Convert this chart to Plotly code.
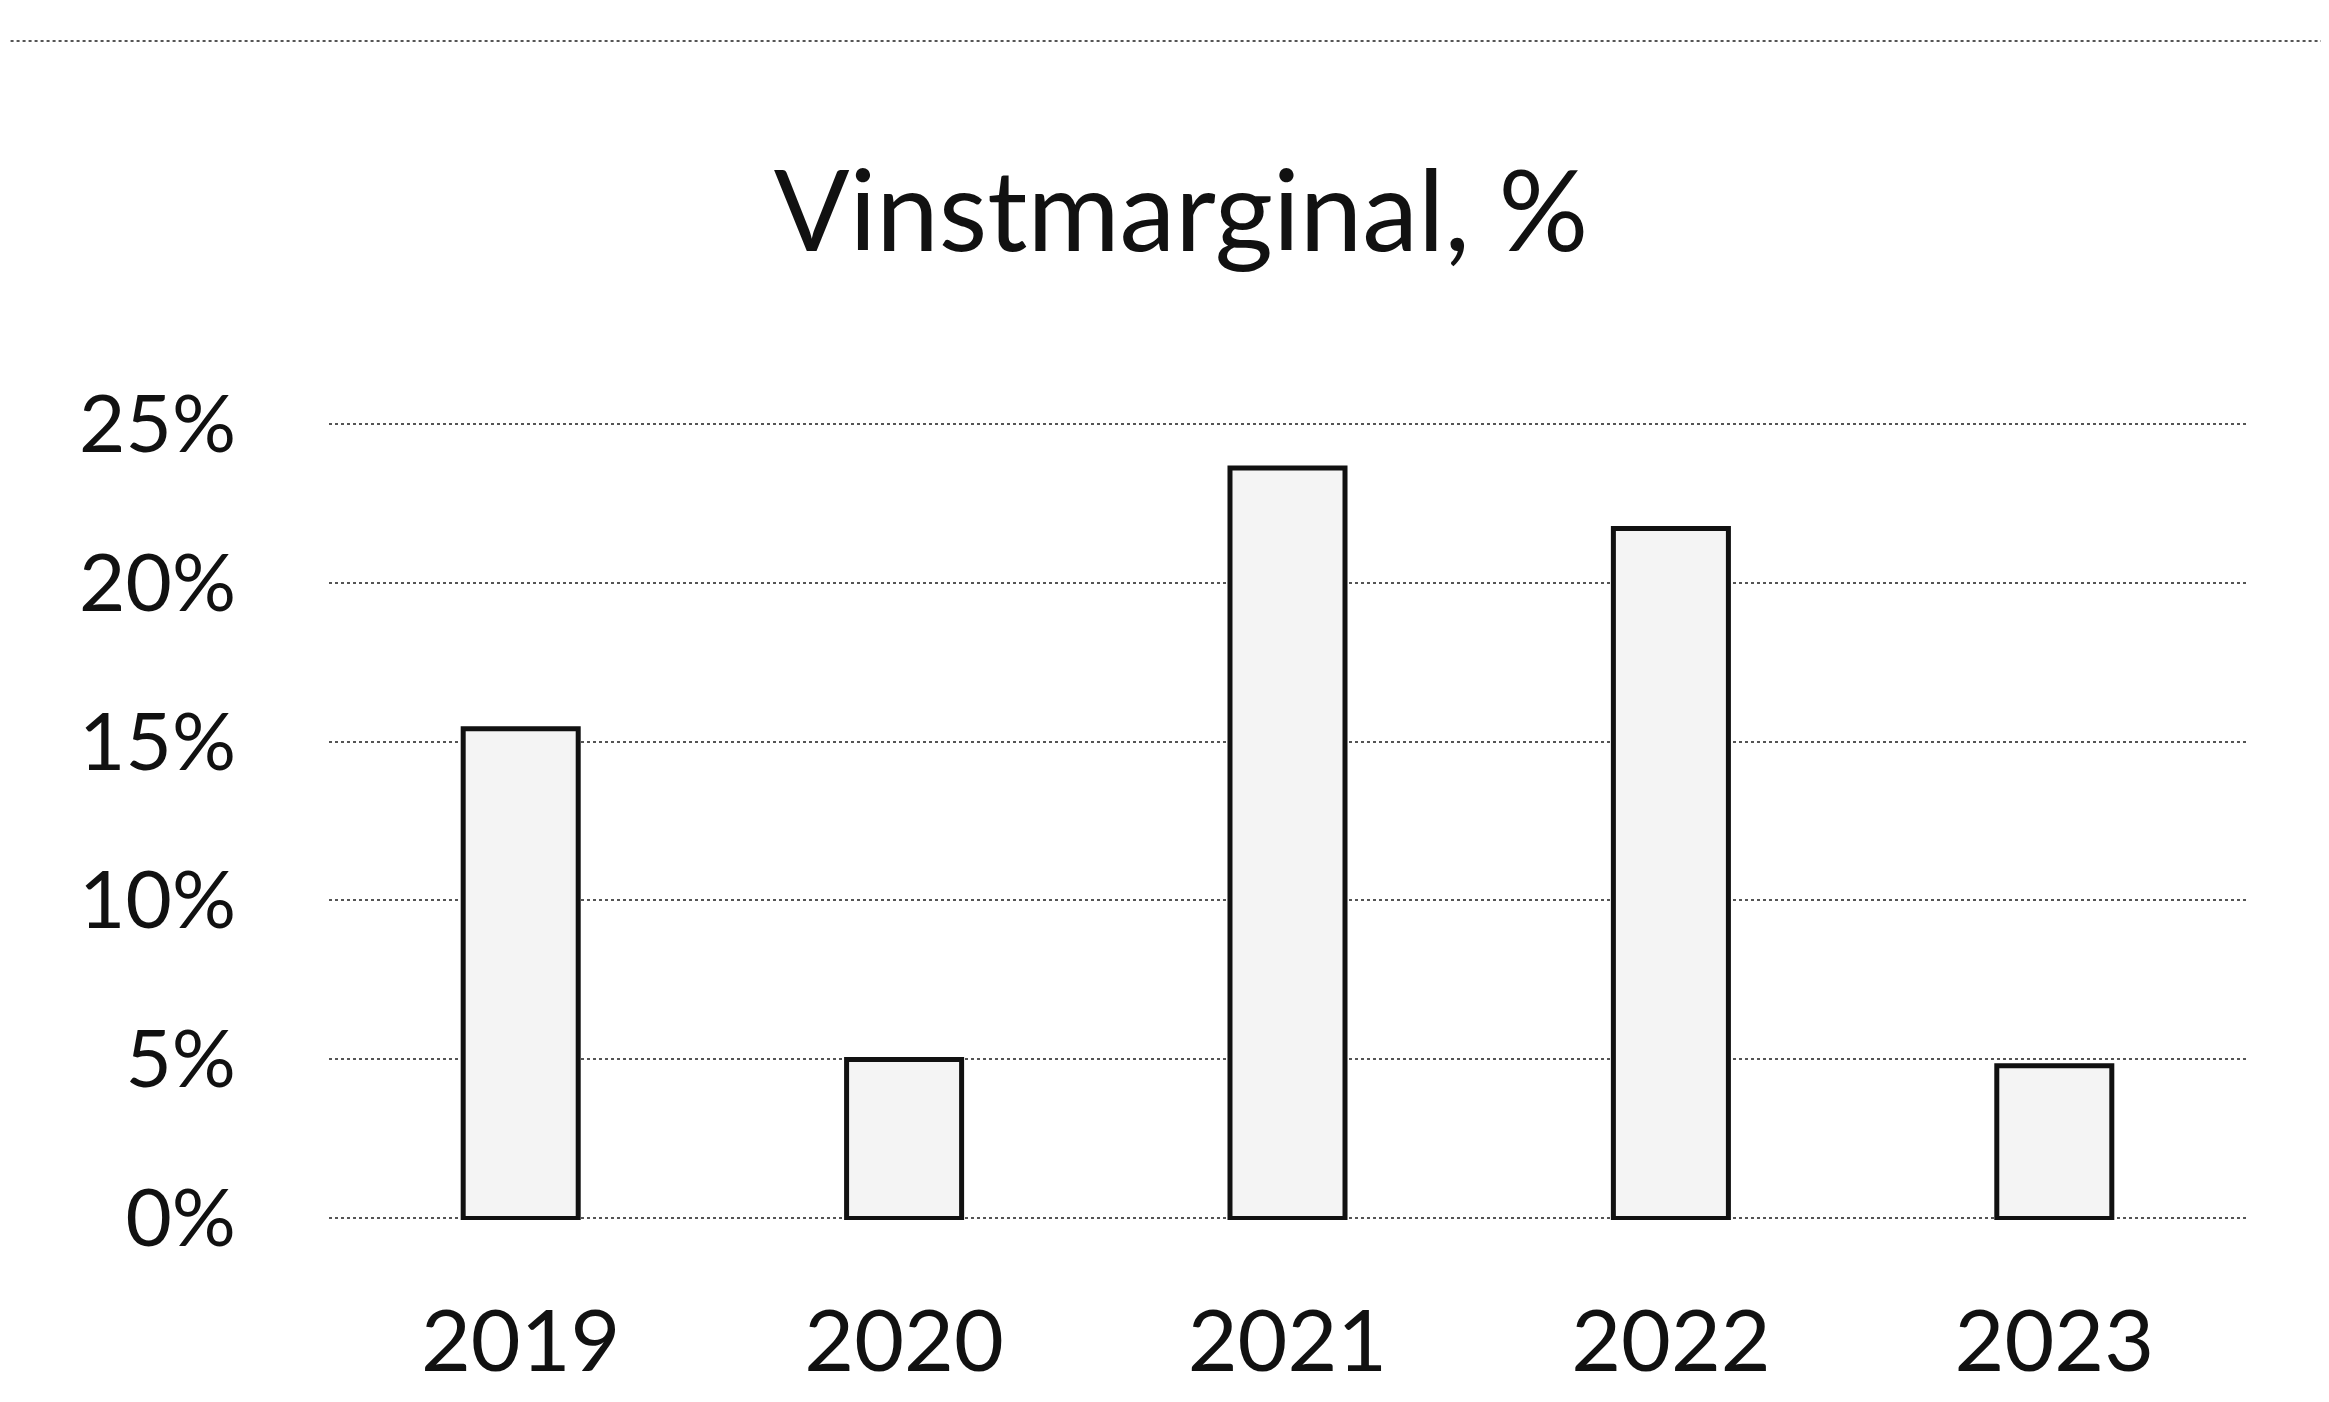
import plotly.graph_objects as go

years = ["2019", "2020", "2021", "2022", "2023"]
margin_pct = [15.4, 5.0, 23.6, 21.7, 4.8]
y_ticks = [0, 5, 10, 15, 20, 25]
y_tick_labels = ["0%", "5%", "10%", "15%", "20%", "25%"]
title_text = "Vinstmarginal, %"

fig = go.Figure()
fig.add_trace(go.Bar(
    x=years,
    y=margin_pct,
    width=0.30,
    marker=dict(color="#f4f4f4", line=dict(color="#111111", width=5)),
))

FONT = "Lato, 'Open Sans', sans-serif"

fig.update_layout(
    width=2329,
    height=1402,
    paper_bgcolor="white",
    plot_bgcolor="white",
    margin=dict(l=321, r=91, t=414, b=190),
    showlegend=False,
    title=dict(
        text=title_text,
        x=1173 / 2329,
        xref="container",
        xanchor="center",
        y=1 - 204 / 1402,
        yanchor="middle",
        font=dict(family=FONT, size=112, color="#111111"),
    ),
    font=dict(family=FONT, color="#111111"),
    shapes=[
        dict(type="line", xref="paper", yref="paper",
             x0=-0.26, x1=1.05, y0=1 + (414 - 33) / (1212 - 414), y1=1 + (414 - 33) / (1212 - 414),
             line=dict(color="#555555", width=2, dash="dot"), layer="below"),
    ],
)

fig.update_xaxes(
    automargin=False,
    showgrid=False,
    showline=False,
    zeroline=False,
    ticks="",
    tickfont=dict(family=FONT, size=86, color="#111111"),
    ticklabelstandoff=64,
)
fig.update_yaxes(
    automargin=False,
    range=[-0.05, 25.05],
    tickvals=y_ticks,
    ticktext=y_tick_labels,
    showgrid=True,
    gridcolor="#555555",
    gridwidth=2,
    griddash="dot",
    zeroline=False,
    showline=False,
    tickfont=dict(family=FONT, size=80, color="#111111"),
    ticklabelstandoff=92,
)

fig.write_html("out.html")
